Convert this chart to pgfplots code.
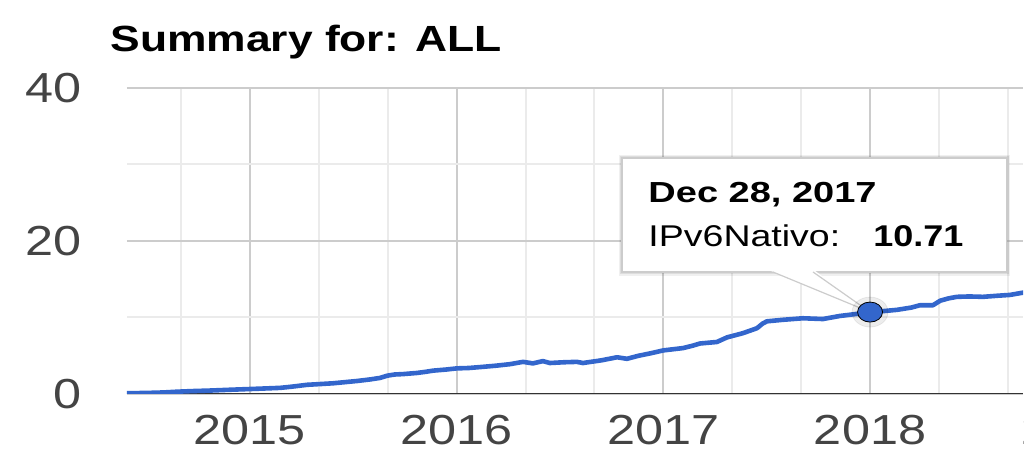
\documentclass[border=0pt]{standalone}
\usepackage{pgfplots}
\pgfplotsset{compat=1.18}
\usepackage{fontspec}
\setmainfont{Liberation Sans}
\usepackage{graphicx}
\definecolor{gblue}{HTML}{3366CC}
\definecolor{gmaj}{HTML}{CCCCCC}
\definecolor{gmin}{HTML}{EBEBEB}
\definecolor{gtxt}{HTML}{444444}
\definecolor{gaxis}{HTML}{333333}
\newcommand\sx[2][1.2]{\scalebox{#1}[1]{#2}}
\begin{document}
\begin{tikzpicture}
\useasboundingbox (0pt,0pt) rectangle (512pt,-229.5pt);
\begin{axis}[
  at={(63.5pt,-197pt)}, anchor=south west,
  scale only axis, width=448pt, height=153pt,
  xmin=2014.405, xmax=2018.74, ymin=0, ymax=40,
  axis line style={draw=none},
  major tick length=0pt, minor tick length=0pt,
  xtick={2015,2016,2017,2018},
  xticklabels={\sx{2015},\sx{2016},\sx{2017},\sx{2018}},
  minor xtick={2014.6667,2015.3333,2015.6667,2016.3333,2016.6667,2017.3333,2017.6667,2018.3333,2018.6667},
  ytick={0,20,40},
  yticklabels={\sx{0},\sx{20},\sx{40}},
  minor ytick={10,30},
  grid=both,
  major grid style={gmaj, line width=1pt},
  minor grid style={gmin, line width=1pt},
  xticklabel style={font=\fontsize{21pt}{21pt}\selectfont, text=gtxt, anchor=north, inner sep=0pt, yshift=-10.5pt},
  yticklabel style={font=\fontsize{21pt}{21pt}\selectfont, text=gtxt, anchor=east, inner sep=0pt, xshift=-22.5pt},
]
\draw[gaxis, line width=1pt] (rel axis cs:0,0) -- (rel axis cs:1,0);
\addplot[gblue, line width=2.3pt, line join=round, line cap=round, no marks] coordinates {
(2014.405,0.10) (2014.46,0.12) (2014.516,0.15) (2014.58,0.2) (2014.647,0.3)
(2014.72,0.38) (2014.806,0.45) (2014.9,0.55) (2015.0,0.65) (2015.07,0.72)
(2015.145,0.8) (2015.2,0.95) (2015.276,1.2) (2015.34,1.3) (2015.402,1.4)
(2015.46,1.55) (2015.518,1.7) (2015.58,1.9) (2015.629,2.1) (2015.665,2.4)
(2015.70,2.55) (2015.74,2.6) (2015.808,2.75) (2015.85,2.9) (2015.885,3.05) (2015.95,3.2)
(2016.001,3.35) (2016.06,3.4) (2016.127,3.55) (2016.19,3.7) (2016.258,3.9)
(2016.321,4.2) (2016.369,4.0) (2016.417,4.3) (2016.451,4.05) (2016.52,4.15)
(2016.582,4.2) (2016.611,4.05) (2016.7,4.4) (2016.776,4.8) (2016.824,4.6)
(2016.88,5.0) (2016.935,5.3) (2017.0,5.7) (2017.095,6.0) (2017.14,6.3) (2017.177,6.6)
(2017.259,6.8) (2017.308,7.4) (2017.385,7.95) (2017.453,8.6) (2017.48,9.2) (2017.501,9.5)
(2017.579,9.7) (2017.675,9.9) (2017.772,9.8) (2017.854,10.2) (2017.93,10.45)
(2018.0,10.71) (2018.07,10.85) (2018.13,11.0) (2018.2,11.3) (2018.241,11.6)
(2018.304,11.6) (2018.34,12.2) (2018.38,12.5) (2018.42,12.7) (2018.48,12.75) (2018.546,12.7)
(2018.62,12.85) (2018.677,12.95) (2018.74,13.25)
};
% tooltip
\fill[black,opacity=0.06] (axis cs:2016.785,31.25) rectangle (axis cs:2018.678,15.45);
\fill[black,opacity=0.08] (axis cs:2016.792,31.05) rectangle (axis cs:2018.670,15.70);
\filldraw[fill=white, draw=gmaj, line width=0.6pt] (axis cs:2016.800,30.85) rectangle (axis cs:2018.662,15.95);
\fill[white] (axis cs:2017.52,16.10) -- (axis cs:2018,10.71) -- (axis cs:2017.734,16.10) -- cycle;
\draw[gmaj, line width=0.6pt] (axis cs:2017.53,15.95) -- (axis cs:2018,10.71) -- (axis cs:2017.724,15.95);
\node[anchor=base west, inner sep=0pt, font=\bfseries\fontsize{14.5pt}{14.5pt}\selectfont] at (axis cs:2016.926,24.97) {\sx[1.31]{Dec 28, 2017}};
\node[anchor=base west, inner sep=0pt, font=\fontsize{15pt}{15pt}\selectfont] at (axis cs:2016.926,19.22) {\sx[1.25]{IPv6Nativo:}};
\node[anchor=base west, inner sep=0pt, font=\bfseries\fontsize{15pt}{15pt}\selectfont] at (axis cs:2018.014,19.22) {\sx[1.2]{10.71}};
% highlighted point
\addplot[only marks, draw=none, fill=black, opacity=0.07, mark=*, mark size=7.5pt, mark options={xscale=1.2, draw=none, fill=black}] coordinates {(2018.0,10.71)};
\addplot[only marks, draw=none, fill=gblue, mark=*, mark size=5pt, mark options={xscale=1.25, draw=none, fill=gblue}] coordinates {(2018.0,10.71)};
\end{axis}
\node[anchor=base west, inner sep=0pt, font=\bfseries\fontsize{18.2pt}{18.2pt}\selectfont] at (55pt,-26pt) {\sx[1.22]{Summary for: ALL}};
\node[anchor=north, inner sep=0pt, text=gtxt, font=\fontsize{21pt}{21pt}\selectfont] at (539pt,-207.5pt) {\sx{2019}};
\end{tikzpicture}
\end{document}
